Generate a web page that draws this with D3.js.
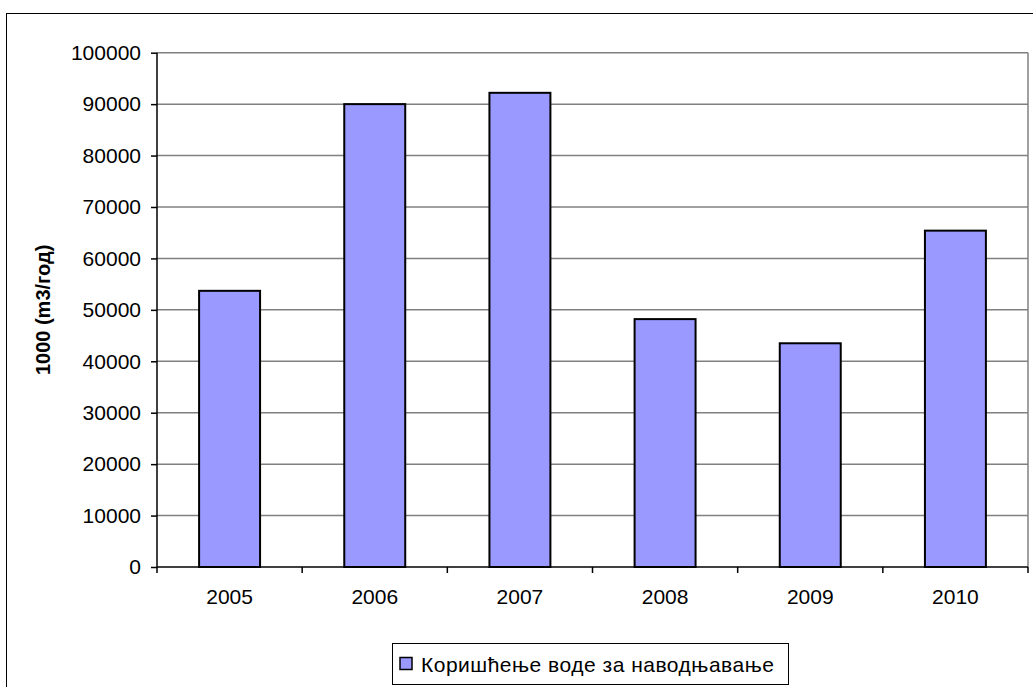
<!DOCTYPE html>
<html>
<head>
<meta charset="utf-8">
<script src="https://cdn.jsdelivr.net/npm/d3@7"></script>
<style>
    body { margin: 0; background: #fff; }
    text { font-family: "Liberation Sans", Arial, sans-serif; }
</style>
</head>
<body>
<div id="chart"></div>
<script>
const years = ["2005", "2006", "2007", "2008", "2009", "2010"];
const waterUse = [53700, 90000, 92200, 48200, 43500, 65400];
const yTicks = [0, 10000, 20000, 30000, 40000, 50000, 60000, 70000, 80000, 90000, 100000];
const seriesName = "Коришћење воде за наводњавање";
const yTitle = "1000 (m3/год)";

const width = 1033, height = 687;
const plot = { left: 157, right: 1028, top: 52.7, bottom: 567 };

const svg = d3.select("#chart")
    .append("svg")
    .attr("width", width)
    .attr("height", height);

// outer chart border
svg.append("rect")
    .attr("x", 6.5)
    .attr("y", 13.5)
    .attr("width", 1040)
    .attr("height", 700)
    .attr("fill", "#fff")
    .attr("stroke", "#000");

const x = d3.scaleBand()
    .domain(years)
    .range([plot.left, plot.right])
    .paddingInner(0.58)
    .paddingOuter(0.29);

const xTicks = d3.scaleBand()
    .domain(years)
    .range([plot.left, plot.right]);

const y = d3.scaleLinear()
    .domain([0, 100000])
    .range([plot.bottom, plot.top]);

// gridlines
svg.append("g")
    .selectAll("line")
    .data(yTicks.slice(1))
    .enter().append("line")
    .attr("x1", plot.left)
    .attr("x2", plot.right)
    .attr("y1", d => y(d))
    .attr("y2", d => y(d))
    .attr("stroke", "#808080")
    .attr("stroke-width", 1.5);

// plot area right edge
svg.append("line")
    .attr("x1", plot.right)
    .attr("x2", plot.right)
    .attr("y1", plot.top)
    .attr("y2", plot.bottom)
    .attr("stroke", "#808080")
    .attr("stroke-width", 1.5);

// bars
svg.append("g")
    .selectAll("rect")
    .data(waterUse)
    .enter().append("rect")
    .attr("x", (d, i) => x(years[i]))
    .attr("y", d => y(d))
    .attr("width", x.bandwidth())
    .attr("height", d => y(0) - y(d))
    .attr("fill", "#9999ff")
    .attr("stroke", "#000")
    .attr("stroke-width", 2);

// y axis
const yAxis = svg.append("g")
    .attr("transform", `translate(${plot.left},0)`)
    .call(d3.axisLeft(y).tickValues(yTicks).tickSize(6).tickPadding(10).tickFormat(d3.format("d")));
yAxis.selectAll("text")
    .attr("font-size", "21px")
    .attr("font-family", "Liberation Sans, Arial, sans-serif")
    .attr("fill", "#000");
yAxis.selectAll("line, path").attr("stroke", "#000").attr("stroke-width", 1.5);
yAxis.select(".domain").attr("d", `M0,${plot.top}V${plot.bottom}`);

// x axis
const xAxis = svg.append("g")
    .attr("transform", `translate(0,${plot.bottom})`)
    .call(d3.axisBottom(xTicks).tickSize(0).tickPadding(22));
xAxis.selectAll("text")
    .attr("font-size", "21px")
    .attr("font-family", "Liberation Sans, Arial, sans-serif")
    .attr("fill", "#000");
xAxis.select(".domain").attr("stroke", "#000").attr("stroke-width", 1.5)
    .attr("d", `M${plot.left},0H${plot.right}`);

// category boundary ticks
svg.append("g")
    .selectAll("line")
    .data(years.concat(["end"]))
    .enter().append("line")
    .attr("x1", (d, i) => i < years.length ? xTicks(d) : plot.right)
    .attr("x2", (d, i) => i < years.length ? xTicks(d) : plot.right)
    .attr("y1", plot.bottom)
    .attr("y2", plot.bottom + 6)
    .attr("stroke", "#000")
    .attr("stroke-width", 1.5);

// y axis title
svg.append("text")
    .attr("transform", `translate(50,${(plot.top + plot.bottom) / 2}) rotate(-90)`)
    .attr("text-anchor", "middle")
    .attr("font-size", "20px")
    .attr("font-weight", "bold")
    .text(yTitle);

// legend
const legend = svg.append("g");
legend.append("rect")
    .attr("x", 392.5)
    .attr("y", 643.5)
    .attr("width", 396)
    .attr("height", 41)
    .attr("fill", "#fff")
    .attr("stroke", "#000");
legend.append("rect")
    .attr("x", 400)
    .attr("y", 657.5)
    .attr("width", 12)
    .attr("height", 12)
    .attr("fill", "#9999ff")
    .attr("stroke", "#000")
    .attr("stroke-width", 1.5);
legend.append("text")
    .attr("x", 421)
    .attr("y", 672)
    .attr("font-size", "21px")
    .attr("letter-spacing", "0.5px")
    .text(seriesName);
</script>
</body>
</html>
